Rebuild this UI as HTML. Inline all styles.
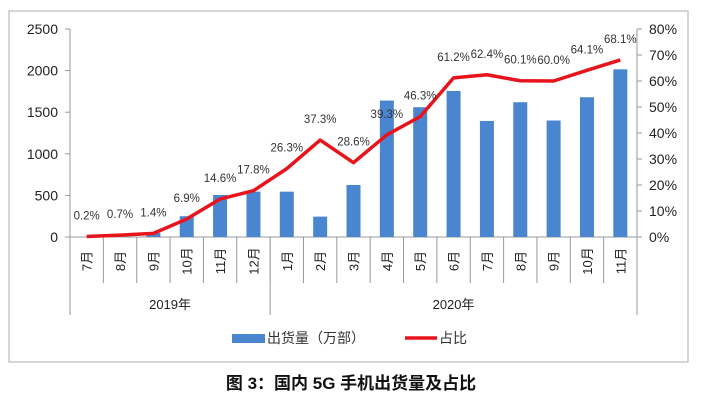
<!DOCTYPE html>
<html><head><meta charset="utf-8"><style>
body{margin:0;background:#fff;}
svg text{font-family:"Liberation Sans","Noto Sans CJK SC",sans-serif;}
</style></head><body>
<svg width="703" height="408" viewBox="0 0 703 408">
<rect x="9" y="11" width="679" height="351" fill="#fff" stroke="#bbb" stroke-width="1.2"/>
<g id="g"></g>
<text x="351" y="389" text-anchor="middle" font-size="17" font-weight="bold" fill="#111">图 3：国内 5G 手机出货量及占比</text>
</svg>
<script>
const months=["7月","8月","9月","10月","11月","12月","1月","2月","3月","4月","5月","6月","7月","8月","9月","10月","11月"];
const shipments=[0,0,50,250,505,545,545,245,625,1640,1560,1755,1395,1620,1400,1680,2015];
const shares=[0.2,0.7,1.4,6.9,14.6,17.8,26.3,37.3,28.6,39.3,46.3,61.2,62.4,60.1,60.0,64.1,68.1];
const leftTicks=[0,500,1000,1500,2000,2500];
const rightTicks=[0,10,20,30,40,50,60,70,80];
const years=["2019年","2020年"];
const yearSpans=[6,11];
const NS="http://www.w3.org/2000/svg";
const g=document.getElementById('g');
const L=70,R=637,T=29,B=237;
const cw=(R-L)/months.length;
const xc=i=>L+cw*(i+0.5);
const yl=v=>B-(v/2500)*(B-T);
const yr=v=>B-(v/80)*(B-T);
function mk(t,a,p){const e=document.createElementNS(NS,t);for(const k in a)e.setAttribute(k,a[k]);(p||g).appendChild(e);return e;}
// axes
let e=mk('line',{x1:L,y1:T,x2:L,y2:B,stroke:'#999'});

e=mk('line',{x1:R,y1:T,x2:R,y2:B,stroke:'#999'});

leftTicks.forEach(v=>{mk('line',{x1:L-5,y1:yl(v),x2:L,y2:yl(v),stroke:'#999'});
 e=mk('text',{x:L-12,y:yl(v)+5,'text-anchor':'end','font-size':14,fill:'#222'});e.textContent=v;
 });
rightTicks.forEach(v=>{mk('line',{x1:R,y1:yr(v),x2:R+5,y2:yr(v),stroke:'#999'});
 e=mk('text',{x:R+12,y:yr(v)+5,'font-size':14,fill:'#222'});e.textContent=v+'%';
 });
mk('line',{x1:L,y1:B,x2:R,y2:B,stroke:'#999'});
// category separators
for(let i=0;i<=months.length;i++){mk('line',{x1:L+cw*i,y1:B,x2:L+cw*i,y2:B+46,stroke:'#999'});}
let acc=0;[0].concat(yearSpans.map(s=>acc+=s)).forEach(k=>{mk('line',{x1:L+cw*k,y1:B,x2:L+cw*k,y2:B+78,stroke:'#999'});});
// bars
shipments.forEach((v,i)=>{e=mk('rect',{x:xc(i)-7,y:yl(v),width:14,height:B-yl(v),fill:'#4a86cf'});
 });
// month labels
months.forEach((m,i)=>{e=mk('text',{transform:`translate(${xc(i)+5},${B+24}) rotate(-90)`,'text-anchor':'middle','font-size':13,fill:'#222'});e.textContent=m;
 });
acc=0;years.forEach((y,k)=>{const s=acc;acc+=yearSpans[k];
 e=mk('text',{x:L+cw*(s+acc)/2,y:B+72,'text-anchor':'middle','font-size':13,fill:'#222'});e.textContent=y;
 });
// line
e=mk('polyline',{points:shares.map((v,i)=>xc(i)+','+yr(v)).join(' '),fill:'none',stroke:'#e8141c','stroke-width':3.5,'stroke-linejoin':'round'});

shares.forEach((v,i)=>{e=mk('text',{x:xc(i),y:yr(v)-17,'text-anchor':'middle','font-size':11.5,fill:'#333'});e.textContent=v.toFixed(1)+'%';
 });
// legend
e=mk('rect',{x:232,y:334,width:33,height:9,fill:'#4a86cf'});

e=mk('text',{x:267,y:343,'font-size':14,fill:'#333'});e.textContent='出货量（万部）';

e=mk('line',{x1:405,y1:338,x2:437,y2:338,stroke:'#e8141c','stroke-width':3.5});

e=mk('text',{x:439,y:343,'font-size':14,fill:'#333'});e.textContent='占比';

</script>
</body></html>
